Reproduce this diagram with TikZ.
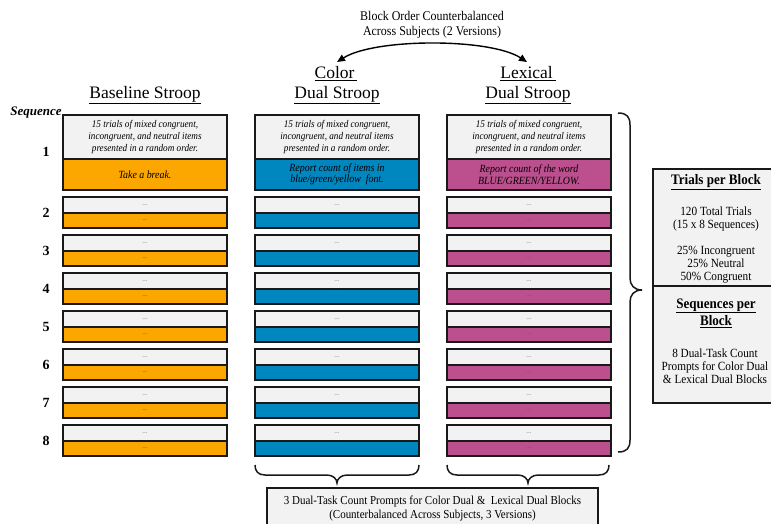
\documentclass[tikz,border=0pt]{standalone}
\usepackage{fontspec}
\setmainfont{Liberation Serif}
\newfontfamily\cnd[FakeStretch=0.9]{Liberation Serif}
\usetikzlibrary{arrows.meta}
\definecolor{orng}{RGB}{252,166,0}
\definecolor{blu}{RGB}{0,135,192}
\definecolor{mag}{RGB}{188,80,143}
\definecolor{lgray}{RGB}{242,242,242}
\definecolor{bdr}{RGB}{25,25,25}
\begin{document}
\begin{tikzpicture}[x=1pt,y=-1pt,
  cell/.style={draw=bdr,line width=1.8pt,inner sep=0pt,minimum width=164pt,align=center},
  graycell/.style={cell,fill=lgray,minimum height=16pt,font=\fontsize{7}{7}\selectfont,text=black!55},
  colcell/.style={cell,minimum height=15pt,font=\fontsize{7}{7}\selectfont,text=black!65},
  firstgray/.style={cell,fill=lgray,minimum height=44pt,font=\cnd\fontsize{10.2}{11.8}\selectfont\itshape},
  firstcol/.style={cell,minimum height=31pt,font=\cnd\fontsize{11}{11.5}\selectfont\itshape},
  header/.style={font=\fontsize{17.5}{19}\selectfont,inner sep=0pt},
  rownum/.style={font=\fontsize{14}{16}\selectfont\bfseries,inner sep=0pt},
  infobox/.style={draw=bdr,line width=1.4pt,fill=lgray},
  infotext/.style={font=\cnd\fontsize{12.5}{13}\selectfont,align=center,inner sep=0pt},
  infohead/.style={font=\cnd\fontsize{14.5}{15}\selectfont\bfseries,align=center,inner sep=0pt},
  bracepath/.style={line width=1.5pt,draw=bdr},
]
\useasboundingbox (0,0) rectangle (771,523);
\clip (0,0) rectangle (771,523);

% top caption and arrow
\node[font=\cnd\fontsize{13.3}{15}\selectfont,align=center,inner sep=0pt] (cap) at (432,25)
  {Block Order Counterbalanced\\Across Subjects (2 Versions)};
\coordinate (arrL) at (337,62);
\coordinate (arrR) at (527,62);
\draw[line width=1.4pt,{Triangle[length=8pt,width=7pt]}-{Triangle[length=8pt,width=7pt]}]
  (arrL) .. controls (375,38) and (490,38) .. (arrR);

% headers
\node[header] (hB) at (145,95) {\underline{Baseline Stroop}};
\node[header] (hC1) at (336,74) {\underline{Color\,}};
\node[header] (hC2) at (337,95) {\underline{Dual Stroop}};
\node[header] (hL1) at (528,74) {\underline{Lexical\,}};
\node[header] (hL2) at (528,95) {\underline{Dual Stroop}};

\node[font=\fontsize{13}{15}\selectfont\bfseries\itshape,inner sep=0pt] (seq) at (36,113) {Sequence};

% row 1
\foreach \c/\cx in {b/145,c/337,l/529}{
  \node[firstgray] (\c1g) at (\cx,137) {15 trials of mixed congruent,\\incongruent, and neutral items\\presented in a random order.};
}
\node[firstcol,fill=orng] (b1c) at (145,174.5) {Take a break.};
\node[firstcol,fill=blu] (c1c) at (337,174.5) {Report count of items in\\blue/green/yellow\ \ font.};
\node[firstcol,fill=mag] (l1c) at (529,174.5) {Report count of the word\\BLUE/GREEN/YELLOW.};
\node[rownum] (r1) at (46,152) {1};

% rows 2..8
\foreach \n in {2,...,8}{
  \pgfmathsetmacro\T{197+(\n-2)*38}
  \node[rownum] (r\n) at (46,\T+16) {\n};
  \foreach \c/\cx/\fc in {b/145/orng,c/337/blu,l/529/mag}{
    \node[graycell] (\c\n g) at (\cx,\T+8) {...};
    \node[colcell,fill=\fc] (\c\n c) at (\cx,\T+23.5) {...};
  }
}

% right brace
\coordinate (rbTop) at (618,113);
\coordinate (rbTip) at (642,290);
\coordinate (rbBot) at (618,452);
\draw[bracepath] (rbTop) .. controls (627,113) and (630,117) .. (630,125)
  -- (630,278) .. controls (630,285) and (634,290) .. (rbTip)
  .. controls (634,290) and (630,295) .. (630,302)
  -- (630,440) .. controls (630,448) and (627,452) .. (rbBot);

% bottom braces
\foreach \a/\m/\b/\nm in {255/337/419/cB,447/528/609/lB}{
  \coordinate (\nm tip) at (\m,483);
  \draw[bracepath] (\a,465) .. controls (\a,471) and (\a+3,475) .. (\a+10,475)
    -- (\m-10,475) .. controls (\m-4,475) and (\m,479) .. (\nm tip)
    .. controls (\m,479) and (\m+4,475) .. (\m+10,475)
    -- (\b-10,475) .. controls (\b-3,475) and (\b,471) .. (\b,465);
}

% right info box
\draw[infobox] (653,169) rectangle (781,286);
\draw[infobox] (653,286) rectangle (781,403);
\node[infohead] (tpb) at (716,182) {\underline{Trials per Block}};
\node[infotext] (tt) at (716,219) {120 Total Trials\\(15 x 8 Sequences)};
\node[infotext] (pct) at (716,265) {25\% Incongruent\\25\% Neutral\\50\% Congruent};
\node[infohead] (spb) at (716,313) {\underline{Sequences per}\\[1pt]\underline{Block}};
\node[infotext] (dt) at (715,366) {8 Dual-Task Count\\Prompts for Color Dual\\\& Lexical Dual Blocks};

% bottom box
\draw[infobox] (267,488) rectangle (598,540);
\node[font=\cnd\fontsize{12.2}{13.5}\selectfont,align=center,inner sep=0pt] (bt) at (432.5,508.5)
  {3 Dual-Task Count Prompts for Color Dual \&\ \ Lexical Dual Blocks\\(Counterbalanced Across Subjects, 3 Versions)};
\end{tikzpicture}
\end{document}
